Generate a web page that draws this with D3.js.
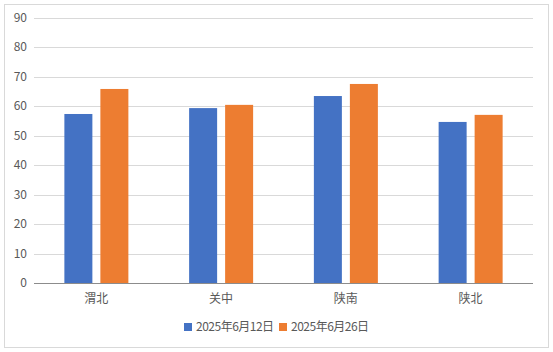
<!DOCTYPE html>
<html>
<head>
<meta charset="utf-8">
<script src="https://cdn.jsdelivr.net/npm/d3@7"></script>
<style>
  body { margin: 0; background: #fff; }
  text { font-family: "Noto Sans CJK SC", "Noto Sans", sans-serif; fill: #595959; }
</style>
</head>
<body>
<svg id="chart" width="553" height="352"></svg>
<script>
// Daten
const categories = ["渭北", "关中", "陕南", "陕北"];
const seriesNames = ["2025年6月12日", "2025年6月26日"];
const valuesJun12 = [57.4, 59.4, 63.5, 54.7];
const valuesJun26 = [65.9, 60.5, 67.6, 57.1];
const yTicks = [0, 10, 20, 30, 40, 50, 60, 70, 80, 90];

const colors = ["#4472C4", "#ED7D31"];
const series = [valuesJun12, valuesJun26];

const svg = d3.select("#chart");

// Rahmen
svg.append("rect")
    .attr("x", 4.5).attr("y", 4.5)
    .attr("width", 544).attr("height", 343)
    .attr("fill", "#fff")
    .attr("stroke", "#d9d9d9");

const x = d3.scaleBand().domain(categories).range([34, 533]);
const y = d3.scaleLinear().domain([0, 90]).range([283, 18]);

// Gitterlinien
svg.append("g")
    .selectAll("line")
    .data(yTicks.filter(d => d > 0))
    .join("line")
    .attr("x1", 34).attr("x2", 533)
    .attr("y1", d => Math.round(y(d)) + 0.5)
    .attr("y2", d => Math.round(y(d)) + 0.5)
    .attr("stroke", "#d9d9d9");

// Y-Achsenbeschriftung
svg.append("g")
    .selectAll("text")
    .data(yTicks)
    .join("text")
    .attr("x", 27)
    .attr("y", d => y(d) + 4)
    .attr("text-anchor", "end")
    .style("font-size", "12px")
    .text(d => d);

// Balken
const barW = 28, gap = 8;
series.forEach((vals, i) => {
    svg.append("g")
        .selectAll("rect")
        .data(vals)
        .join("rect")
        .attr("x", (d, j) => x(categories[j]) + x.bandwidth() / 2 - barW - gap / 2 + i * (barW + gap))
        .attr("y", d => y(d))
        .attr("width", barW)
        .attr("height", d => y(0) - y(d))
        .attr("fill", colors[i]);
});

// X-Achse
svg.append("line")
    .attr("x1", 34).attr("x2", 533)
    .attr("y1", 283.5).attr("y2", 283.5)
    .attr("stroke", "#8c8c8c");

svg.append("g")
    .selectAll("text")
    .data(categories)
    .join("text")
    .attr("x", d => x(d) + x.bandwidth() / 2)
    .attr("y", 303)
    .attr("text-anchor", "middle")
    .style("font-size", "12px")
    .text(d => d);

// Legende
const legendX = [184, 279];
seriesNames.forEach((name, i) => {
    svg.append("rect")
        .attr("x", legendX[i]).attr("y", 323)
        .attr("width", 8).attr("height", 8)
        .attr("fill", colors[i]);
    svg.append("text")
        .attr("x", legendX[i] + 12)
        .attr("y", 331)
        .style("font-size", "12px")
        .style("letter-spacing", "-0.5px")
        .text(name);
});
</script>
</body>
</html>
